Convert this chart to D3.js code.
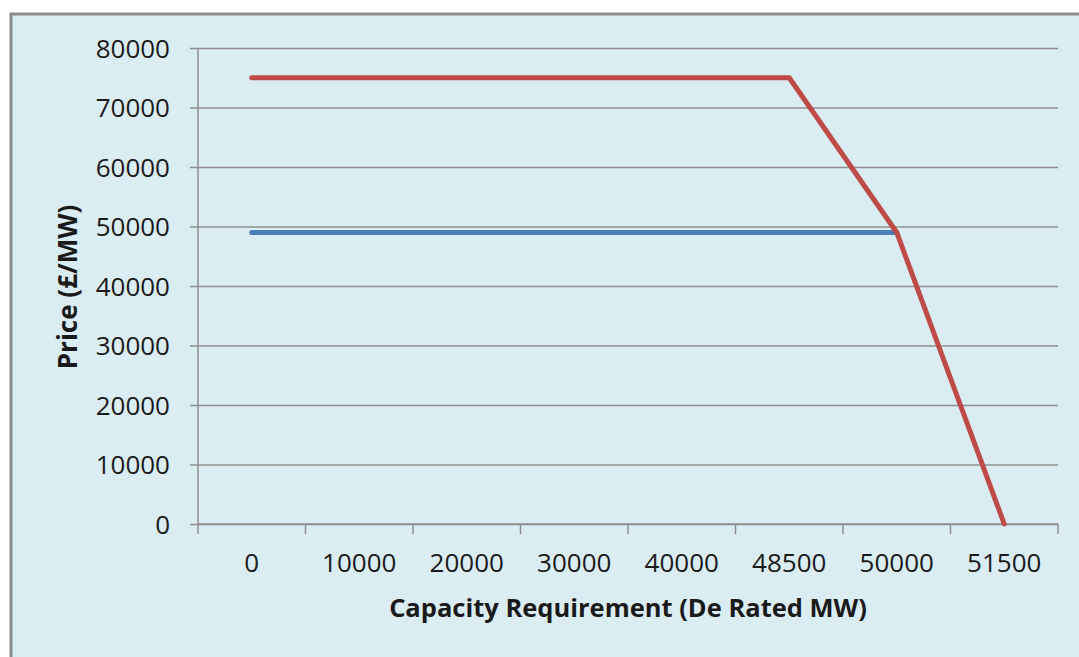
<!DOCTYPE html>
<html>
<head>
<meta charset="utf-8">
<script src="https://cdn.jsdelivr.net/npm/d3@7"></script>
<style>
  body { margin: 0; background: #fff; }
  text { font-family: "Open Sans", sans-serif; fill: #1a1a1a; }
</style>
</head>
<body>
<svg id="chart" width="1079" height="657"></svg>
<script>
// categories on the x axis (MW)
const categories = ["0", "10000", "20000", "30000", "40000", "48500", "50000", "51500"];
// red demand curve, one value per category
const redValues = [75000, 75000, 75000, 75000, 75000, 75000, 49000, 0];
// blue line, stops at 50000
const blueValues = [49000, 49000, 49000, 49000, 49000, 49000, 49000, null];
const yTicks = [0, 10000, 20000, 30000, 40000, 50000, 60000, 70000, 80000];

let chart = d3.select("#chart");

// frame
chart.append("rect")
    .attr("x", 11).attr("y", 14)
    .attr("width", 1079).attr("height", 660)
    .attr("fill", "#daedf3")
    .attr("stroke", "#8c8c8c")
    .attr("stroke-width", 3);

let plotLeft = 198, plotRight = 1058, plotTop = 48, plotBottom = 524;

let xScale = d3.scaleBand().domain(categories).range([plotLeft, plotRight]);
let yScale = d3.scaleLinear().domain([0, 80000]).range([plotBottom, plotTop]);

// gridlines + y axis
let yAxis = chart.append("g")
    .attr("transform", "translate(" + plotLeft + ",0)")
    .call(d3.axisLeft(yScale).tickValues(yTicks).tickSize(-(plotRight - plotLeft)).tickSizeOuter(0).tickFormat(d3.format("d")));
yAxis.select(".domain").remove();
yAxis.selectAll(".tick line").attr("stroke", "#8f8f8f").attr("stroke-width", 1.5).attr("x1", -8);
yAxis.selectAll(".tick text").attr("x", -28).attr("dy", "0.35em")
    .style("font-size", "26px").style("fill", "#1a1a1a");

// y axis vertical line
chart.append("line")
    .attr("x1", plotLeft).attr("x2", plotLeft)
    .attr("y1", plotTop).attr("y2", plotBottom)
    .attr("stroke", "#8f8f8f").attr("stroke-width", 1.5);

// x axis
let xax = chart.append("g").attr("transform", "translate(0," + plotBottom + ")");
xax.append("line").attr("x1", plotLeft).attr("x2", plotRight)
    .attr("stroke", "#8f8f8f").attr("stroke-width", 1.5);
let bounds = categories.map(c => xScale(c)).concat([plotRight]);
xax.selectAll("line.tk").data(bounds).enter().append("line")
    .attr("class", "tk")
    .attr("x1", d => d).attr("x2", d => d)
    .attr("y1", 0).attr("y2", 10)
    .attr("stroke", "#8f8f8f").attr("stroke-width", 1.5);
xax.selectAll("text").data(categories).enter().append("text")
    .attr("x", d => xScale(d) + xScale.bandwidth() / 2)
    .attr("y", 48)
    .style("text-anchor", "middle")
    .style("font-size", "26px")
    .text(d => d);

// lines
let line = d3.line()
    .defined(d => d.v !== null)
    .x(d => xScale(d.c) + xScale.bandwidth() / 2)
    .y(d => yScale(d.v));

chart.append("path")
    .datum(categories.map((c, i) => ({c: c, v: blueValues[i]})))
    .attr("d", line)
    .attr("fill", "none")
    .attr("stroke", "#4a7ebb")
    .attr("stroke-width", 5)
    .attr("stroke-linecap", "round")
    .attr("stroke-linejoin", "round");

chart.append("path")
    .datum(categories.map((c, i) => ({c: c, v: redValues[i]})))
    .attr("d", line)
    .attr("fill", "none")
    .attr("stroke", "#be4b48")
    .attr("stroke-width", 5)
    .attr("stroke-linecap", "round")
    .attr("stroke-linejoin", "round");

// titles
chart.append("text")
    .text("Capacity Requirement (De Rated MW)")
    .attr("x", 628).attr("y", 617)
    .style("text-anchor", "middle")
    .style("font-weight", "bold")
    .style("font-size", "25.5px");

chart.append("text")
    .attr("transform", "translate(77,287) rotate(-90)")
    .style("text-anchor", "middle")
    .style("font-weight", "bold")
    .style("font-size", "26px")
    .text("Price (£/MW)");
</script>
</body>
</html>
